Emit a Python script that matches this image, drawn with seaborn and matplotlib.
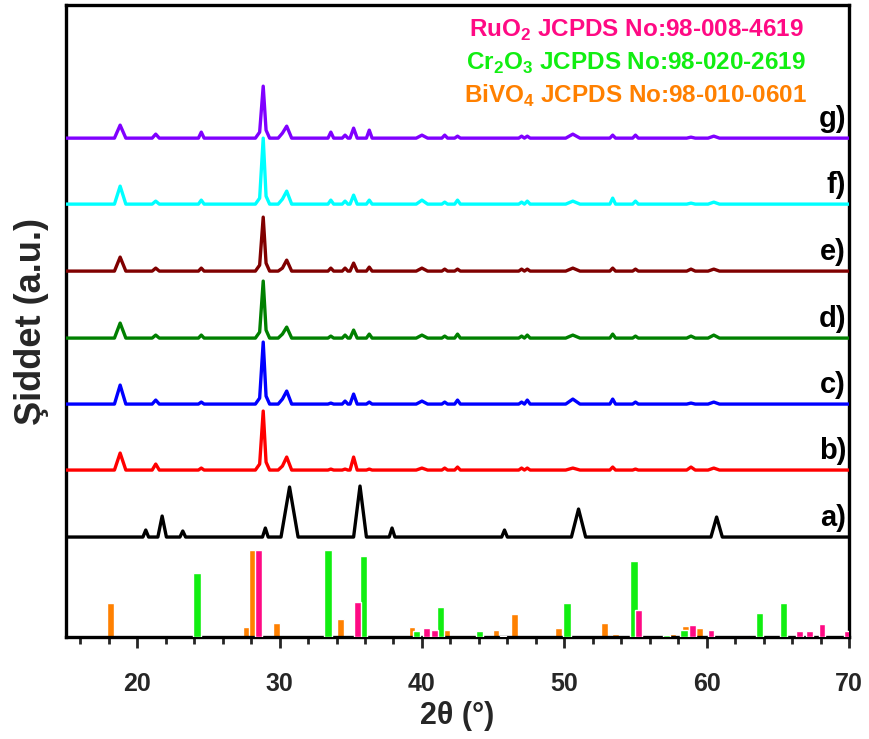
import matplotlib
matplotlib.use("Agg")
import matplotlib.pyplot as plt
import numpy as np
import seaborn as sns

# Reference patterns (2theta in degrees, relative intensity)
ruo2_pos = [28.5, 35.5, 40.3, 40.9, 45.7, 55.2, 59.0, 60.3, 66.5, 67.2, 68.1, 69.9]
ruo2_h = [87, 35, 9, 7, 1, 27, 12, 7, 6, 6, 13, 6]
cr2o3_pos = [24.2, 33.4, 35.9, 39.6, 41.3, 44.05, 50.2, 54.9, 57.2, 58.4, 63.7, 65.4]
cr2o3_h = [64, 87, 81, 6, 30, 6, 34, 76, 2, 7, 24, 34]
bivo4_pos = [18.1, 27.7, 28.1, 29.8, 34.3, 37.5, 39.0, 39.3, 41.7, 45.2, 46.5, 49.6,
             52.8, 53.6, 55.6, 57.6, 58.5, 59.5, 63.2, 65.8, 67.6, 69.0, 69.8]
bivo4_h = [34, 10, 87, 14, 18, 1, 1, 10, 7, 7, 23, 9, 14, 3, 2, 3, 11, 9, 2, 2, 1, 1, 1]

# sample a)
a_2theta = [15, 20.4, 20.6, 20.8, 21.45, 21.75, 22.05, 23.0, 23.2, 23.4, 28.8, 29.0, 29.2,
            30.1, 30.7, 31.3, 35.2, 35.65, 36.1, 37.7, 37.9, 38.1, 45.6, 45.8, 46.0,
            50.5, 51.0, 51.5, 60.3, 60.7, 61.1, 70]
a_int = [0, 0, 7, 0, 0, 21, 0, 0, 6, 0, 0, 9, 0, 0, 50, 0, 0, 51, 0, 0, 9, 0, 0, 7, 0,
         0, 28, 0, 0, 20, 0, 0]

# samples b) - g) share the same 2theta points
bg_2theta = [15, 18.4, 18.8, 19.2,
             21.05, 21.3, 21.55,
             24.3, 24.5, 24.7,
             28.3, 28.6, 28.85, 29.05, 29.3,
             29.9, 30.2, 30.5, 30.85,
             33.4, 33.6, 33.8,
             34.4, 34.6, 34.8,
             34.95, 35.2, 35.45,
             36.1, 36.3, 36.5,
             39.6, 40.0, 40.4,
             41.4, 41.6, 41.8,
             42.3, 42.5, 42.7,
             46.8, 47.0, 47.2, 47.4, 47.6,
             50.1, 50.6, 51.1,
             53.2, 53.4, 53.6,
             54.8, 55.0, 55.2,
             58.6, 58.9, 59.2,
             60.1, 60.5, 60.9,
             70]

b_int = [0, 0, 17, 0, 0, 6, 0, 0, 2, 0, 0, 6, 59, 8, 0, 0, 4, 13, 0, 0, 1, 0, 0, 1, 0,
         0, 13, 0, 0, 1, 0, 0, 2, 0, 0, 2, 0, 0, 3, 0, 0, 2, 0, 2, 0, 0, 2, 0, 0, 3, 0,
         0, 1, 0, 0, 3, 0, 0, 2, 0, 0]
c_int = [0, 0, 19, 0, 0, 4, 0, 0, 2, 0, 0, 6, 62, 8, 0, 0, 5, 13, 0, 0, 1, 0, 0, 3, 0,
         0, 10, 0, 0, 2, 0, 0, 3, 0, 0, 2, 0, 0, 4, 0, 0, 2, 0, 4, 0, 0, 5, 0, 0, 5, 0,
         0, 2, 0, 0, 1, 0, 0, 2, 0, 0]
d_int = [0, 0, 15, 0, 0, 3, 0, 0, 3, 0, 0, 6, 57, 8, 0, 0, 4, 11, 0, 0, 2, 0, 0, 3, 0,
         0, 8, 0, 0, 4, 0, 0, 3, 0, 0, 2, 0, 0, 4, 0, 0, 2, 0, 3, 0, 0, 3, 0, 0, 4, 0,
         0, 2, 0, 0, 2, 0, 0, 3, 0, 0]
e_int = [0, 0, 14, 0, 0, 3, 0, 0, 3, 0, 0, 6, 54, 8, 0, 0, 3, 11, 0, 0, 3, 0, 0, 3, 0,
         0, 8, 0, 0, 4, 0, 0, 3, 0, 0, 2, 0, 0, 2, 0, 0, 2, 0, 2, 0, 0, 3, 0, 0, 3, 0,
         0, 2, 0, 0, 2, 0, 0, 2, 0, 0]
f_int = [0, 0, 18, 0, 0, 3, 0, 0, 4, 0, 0, 6, 66, 8, 0, 0, 5, 13, 0, 0, 4, 0, 0, 3, 0,
         0, 9, 0, 0, 4, 0, 0, 4, 0, 0, 2, 0, 0, 4, 0, 0, 2, 0, 3, 0, 0, 3, 0, 0, 6, 0,
         0, 3, 0, 0, 1, 0, 0, 2, 0, 0]
g_int = [0, 0, 13, 0, 0, 4, 0, 0, 6, 0, 0, 6, 52, 8, 0, 0, 5, 12, 0, 0, 6, 0, 0, 3, 0,
         0, 10, 0, 0, 8, 0, 0, 3, 0, 0, 3, 0, 0, 2, 0, 0, 2, 0, 2, 0, 0, 4, 0, 0, 3, 0,
         0, 3, 0, 0, 1, 0, 0, 2, 0, 0]

sample_labels = ['a)', 'b)', 'c)', 'd)', 'e)', 'f)', 'g)']

# layout / style
offsets = [100, 167, 233, 299, 366, 433, 499]
line_colors = ['black', '#ff0000', '#0000ff', '#008000', '#800000', '#00ffff', '#8000ff']
pink, green, orange = '#ff0a84', '#11ee11', '#ff8000'

sns.set_style("ticks")
plt.rcParams['font.family'] = ['Liberation Sans', 'DejaVu Sans']
plt.rcParams['font.weight'] = 'bold'
plt.rcParams['mathtext.fontset'] = 'custom'
plt.rcParams['mathtext.rm'] = 'Liberation Sans:bold'
plt.rcParams['mathtext.bf'] = 'Liberation Sans:bold'

fig = plt.figure(figsize=(8.69, 7.39), dpi=100)
ax = fig.add_axes([0.076, 0.138, 0.901, 0.855])

# reference bars
ax.bar(bivo4_pos, bivo4_h, width=0.48, color=orange, zorder=2)
ax.bar(cr2o3_pos, cr2o3_h, width=0.52, color=green, zorder=3)
ax.bar(ruo2_pos, ruo2_h, width=0.48, color=pink, zorder=4)

traces = [(a_2theta, a_int)] + [(bg_2theta, t) for t in [b_int, c_int, d_int, e_int, f_int, g_int]]
for (xs, ys), off, col, lab in zip(traces, offsets, line_colors, sample_labels):
    sns.lineplot(x=xs, y=np.array(ys) + off, color=col, lw=2.4, estimator=None,
                 sort=False, ax=ax, zorder=5)
    ax.text(69.8, off + 19, lab, ha='right', va='center', fontsize=21,
            fontweight='bold', color='black')

ax.text(0.728, 0.960, r'RuO$_\mathrm{2}$ JCPDS No:98-008-4619', transform=ax.transAxes,
        ha='center', va='center', color=pink, fontsize=17.5, fontweight='bold')
ax.text(0.728, 0.908, r'Cr$_\mathrm{2}$O$_\mathrm{3}$ JCPDS No:98-020-2619', transform=ax.transAxes,
        ha='center', va='center', color=green, fontsize=17.5, fontweight='bold')
ax.text(0.728, 0.856, r'BiVO$_\mathrm{4}$ JCPDS No:98-010-0601', transform=ax.transAxes,
        ha='center', va='center', color=orange, fontsize=17.5, fontweight='bold')

ax.set_xlim(15, 70)
ax.set_ylim(0, 632)
ax.set_yticks([])
ax.set_xticks([20, 30, 40, 50, 60, 70])
ax.set_xticks(np.arange(16, 70, 2), minor=True)
ax.tick_params(axis='x', which='major', direction='out', length=8, width=2, pad=17)
ax.tick_params(axis='x', which='minor', direction='out', length=5, width=2)
for lbl in ax.get_xticklabels():
    lbl.set_fontweight('bold')
    lbl.set_fontsize(18)
for sp in ax.spines.values():
    sp.set_linewidth(2.4)
    sp.set_color('black')

ax.set_xlabel('2θ (°)', fontsize=22, fontweight='bold', labelpad=4)
ax.set_ylabel('Şiddet (a.u.)', fontsize=26, fontweight='bold', labelpad=12)

fig.savefig('out.png', dpi=100)
